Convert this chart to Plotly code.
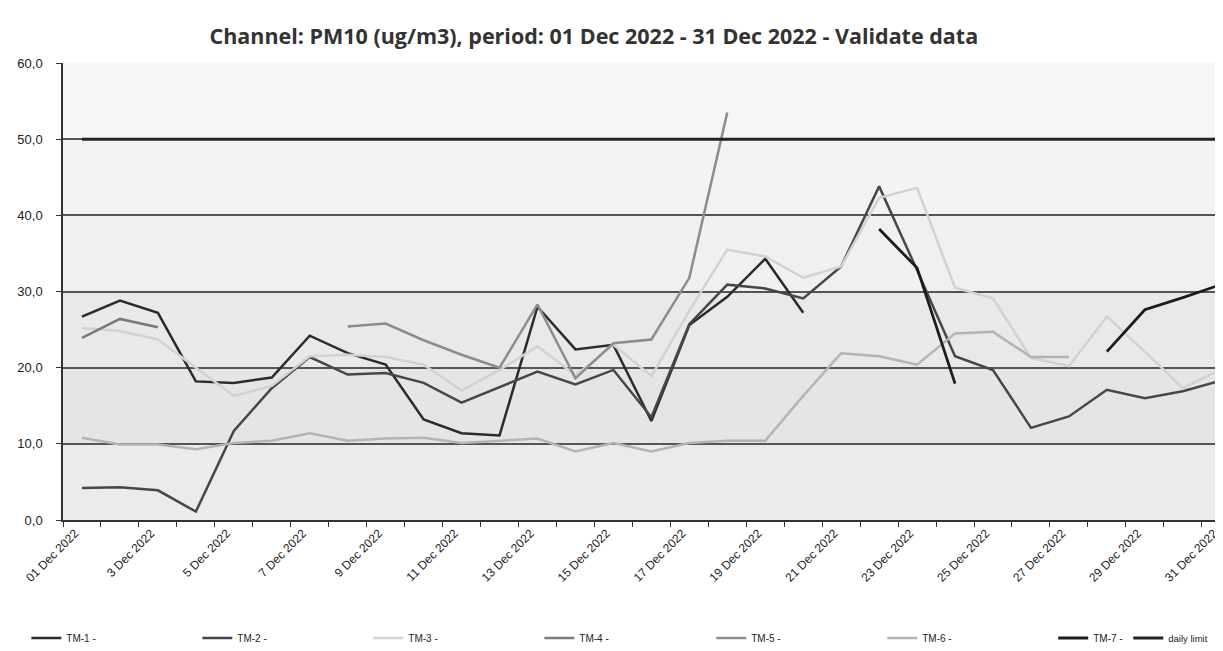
import plotly.graph_objects as go

# x categories: days of December 2022
days = list(range(1, 32))
day_labels = ['01 Dec 2022'] + [f'{d} Dec 2022' for d in range(2, 32)]
label_days = list(range(1, 32, 2))

N = None
tm1 = [26.7, 28.8, 27.2, 18.2, 18.0, 18.7, 24.2, 21.9, 20.4, 13.2, 11.4, 11.1, 28.0, 22.4, 23.0, 13.0,
       25.6, 29.3, 34.3, 27.2, N, N, N, N, N, N, N, N, N, N, N]
tm2 = [4.2, 4.3, 3.9, 1.1, 11.7, 17.3, 21.4, 19.1, 19.3, 18.0, 15.4, 17.4, 19.5, 17.8, 19.7, 13.5,
       25.7, 30.9, 30.4, 29.1, 33.3, 43.8, 32.8, 21.5, 19.7, 12.1, 13.6, 17.1, 16.0, 16.9, 18.3]
tm3 = [25.2, 24.8, 23.7, 20.0, 16.3, 17.6, 21.5, 21.7, 21.4, 20.4, 17.0, 19.7, 22.8, 19.0, 23.0, 18.9,
       27.5, 35.5, 34.6, 31.8, 33.3, 42.3, 43.6, 30.5, 29.1, 21.3, 20.2, 26.7, 22.1, 17.3, 19.8]
tm4 = [23.9, 26.4, 25.3, N, N, N, N, N, N, N, N, N, N, N, N, N,
       N, N, N, N, N, N, N, N, N, N, N, N, N, N, N]
tm5 = [N, N, N, N, N, N, N, 25.4, 25.8, 23.6, 21.7, 20.0, 28.3, 18.6, 23.2, 23.7,
       31.8, 53.5, N, N, N, N, N, N, N, N, N, N, N, N, N]
tm6 = [10.8, 9.9, 9.9, 9.3, 10.1, 10.4, 11.4, 10.4, 10.7, 10.8, 10.1, 10.4, 10.7, 9.0, 10.1, 9.0,
       10.1, 10.4, 10.4, 16.3, 21.9, 21.5, 20.4, 24.5, 24.7, 21.4, 21.4, N, N, N, N]
tm7 = [N, N, N, N, N, N, N, N, N, N, N, N, N, N, N, N,
       N, N, N, N, N, 38.2, 33.1, 17.9, N, N, N, 22.1, 27.6, 29.2, 30.9]
daily_limit = [50.0] * 31

# the legend row is split over three legends so that it never wraps
series = [
    ('TM-1 -', tm1, '#2b2b2b', 2.5, 'legend'),
    ('TM-2 -', tm2, '#474747', 2.5, 'legend'),
    ('TM-3 -', tm3, '#d2d2d2', 2.5, 'legend'),
    ('TM-4 -', tm4, '#7a7a7a', 2.5, 'legend'),
    ('TM-5 -', tm5, '#8c8c8c', 2.5, 'legend3'),
    ('TM-6 -', tm6, '#b4b4b4', 2.5, 'legend3'),
    ('TM-7 -', tm7, '#1c1c1c', 2.8, 'legend3'),
    ('daily limit', daily_limit, '#222222', 3, 'legend2'),
]

fig = go.Figure()

for name, vals, color, lw, leg in series:
    fig.add_trace(go.Scatter(x=days, y=vals, name=name, mode='lines', legend=leg,
                             line=dict(color=color, width=lw), connectgaps=False))

# light grey plot background, darker toward the bottom
bands = [(0, 10, '#ebebeb'), (10, 20, '#e5e5e5'), (20, 30, '#e9e9e9'),
         (30, 40, '#f0f0f0'), (40, 50, '#f3f3f3'), (50, 60, '#f6f6f6')]
for y0, y1, c in bands:
    fig.add_shape(type='rect', xref='paper', yref='y', x0=0, x1=1, y0=y0, y1=y1,
                  fillcolor=c, line_width=0, layer='below')

leg_common = dict(orientation='h', xref='container', yref='container',
                  y=1 - 630 / 651, yanchor='middle', itemwidth=30,
                  entrywidthmode='pixels', bgcolor='rgba(0,0,0,0)')

fig.update_layout(
    width=1223, height=651,
    margin=dict(l=55, r=0, t=55, b=139, autoexpand=False),
    paper_bgcolor='white', plot_bgcolor='white',
    separators=',.',
    font=dict(family='Liberation Sans, Arial', size=12, color='#222'),
    title=dict(text='<b>Channel: PM10 (ug/m3), period: 01 Dec 2022 - 31 Dec 2022 - Validate data</b>',
               x=0.479, xref='container', xanchor='center',
               y=1 - 28 / 651, yref='container', yanchor='middle',
               font=dict(family='Open Sans, Lato', size=21.5, color='#333')),
    legend=dict(x=0.015, entrywidth=126, font=dict(size=10, color='#222'), **leg_common),
    legend3=dict(x=0.575, entrywidth=126, font=dict(size=10, color='#222'), **leg_common),
    legend2=dict(x=0.916, entrywidth=50, font=dict(size=9.5, color='#222'), **leg_common),
    showlegend=True,
)

fig.update_xaxes(range=[0.5, 31.27], tickvals=label_days,
                 ticktext=[day_labels[d - 1] for d in label_days],
                 tickangle=-45, ticks='', showgrid=False, zeroline=False,
                 ticklabelshift=-7,
                 showline=True, linecolor='#333', linewidth=1.5,
                 minor=dict(ticks='outside', tick0=0.5, dtick=1, ticklen=5,
                            tickcolor='#333', showgrid=False),
                 tickfont=dict(size=12, color='#222'))

fig.update_yaxes(range=[0, 60], dtick=10, tickformat='.1f',
                 showgrid=True, gridcolor='#555', gridwidth=1.5, zeroline=False,
                 showline=True, linecolor='#333', linewidth=1.5,
                 ticks='outside', ticklen=5, tickcolor='#333', ticklabelstandoff=11,
                 tickfont=dict(size=13, color='#222'))

fig.write_html('out.html')
